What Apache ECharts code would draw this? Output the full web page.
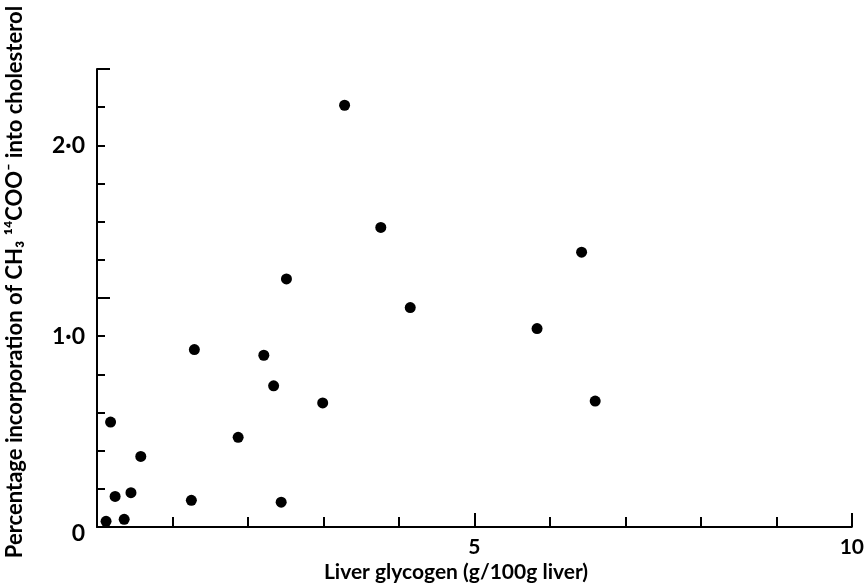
<!DOCTYPE html>
<html>
<head>
<meta charset="utf-8">
<script src="https://cdn.jsdelivr.net/npm/echarts@6/dist/echarts.min.js"></script>
<style>
  html, body { margin: 0; padding: 0; background: #fff; }
  #main { width: 867px; height: 583px; }
</style>
</head>
<body>
<div id="main"></div>
<script>
// 肝糖原 vs 胆固醇掺入 散点图
var glycogen = [3.28, 3.76, 6.42, 2.51, 4.15, 5.83, 1.29, 2.21, 2.34, 6.60,
                2.99, 0.18, 1.87, 0.58, 0.45, 0.24, 1.25, 2.44, 0.12, 0.36];
var incorporation = [2.21, 1.57, 1.44, 1.30, 1.15, 1.04, 0.93, 0.90, 0.74, 0.66,
                     0.65, 0.55, 0.47, 0.37, 0.18, 0.16, 0.14, 0.13, 0.03, 0.04];
var xLabels = {5: '5', 10: '10'};
var yLabels = {0: '{z|0}', 1: '1·0', 2: '2·0'};

var points = glycogen.map(function (x, i) { return [x, incorporation[i]]; });

var chart = echarts.init(document.getElementById('main'));
var font = 'Lato, "DejaVu Sans", sans-serif';

function pick(map, v) {
  var r = Math.round(v * 10) / 10;
  return map[r] !== undefined ? map[r] : '';
}

option = {
  backgroundColor: '#fff',
  animation: false,
  grid: { left: 97, right: 6, top: 69, bottom: 56 },
  xAxis: [
    {
      type: 'value', min: 0, max: 10, interval: 1,
      axisLine: { lineStyle: { color: '#000', width: 2 } },
      axisTick: { inside: true, length: 10, lineStyle: { color: '#000', width: 2 } },
      axisLabel: {
        margin: 10, color: '#000', fontSize: 21, fontWeight: 'bold', fontFamily: font,
        formatter: function (v) { return pick(xLabels, v); }
      },
      splitLine: { show: false }
    },
    {
      type: 'value', min: 0, max: 10, interval: 5, position: 'bottom',
      axisLine: { show: false },
      axisTick: { inside: true, length: 14, lineStyle: { color: '#000', width: 2 } },
      axisLabel: { show: false },
      splitLine: { show: false }
    }
  ],
  yAxis: [
    {
      type: 'value', min: 0, max: 2.4, interval: 0.2,
      axisLine: { lineStyle: { color: '#000', width: 2 } },
      axisTick: { inside: true, length: 8, lineStyle: { color: '#000', width: 2 } },
      axisLabel: {
        margin: 12, color: '#000', fontSize: 23, fontWeight: 'bold', fontFamily: font,
        formatter: function (v) { return pick(yLabels, v); },
        rich: {
          z: { fontSize: 23, fontWeight: 'bold', fontFamily: font, color: '#000', padding: [14, 0, 0, 0] }
        }
      },
      splitLine: { show: false }
    },
    {
      type: 'value', min: 0, max: 2, interval: 1, position: 'left',
      axisLine: { show: false },
      axisTick: { inside: true, length: 13, lineStyle: { color: '#000', width: 2 } },
      axisLabel: { show: false },
      splitLine: { show: false }
    }
  ],
  graphic: [
    {
      type: 'text', x: 15, y: 282, rotation: Math.PI / 2,
      style: {
        text: 'Percentage incorporation of CH₃ ¹⁴COO⁻ into cholesterol',
        font: 'bold 22px ' + font, fill: '#000',
        align: 'center', verticalAlign: 'middle'
      }
    },
    {
      type: 'text', x: 456, y: 572,
      style: {
        text: 'Liver glycogen (g/100g liver)',
        font: 'bold 21px ' + font, fill: '#000',
        align: 'center', verticalAlign: 'middle'
      }
    }
  ],
  series: [
    {
      type: 'scatter',
      xAxisIndex: 0, yAxisIndex: 0,
      data: points,
      symbol: 'circle',
      symbolSize: 11,
      itemStyle: { color: '#000', opacity: 1 }
    }
  ]
};
chart.setOption(option);
</script>
</body>
</html>
